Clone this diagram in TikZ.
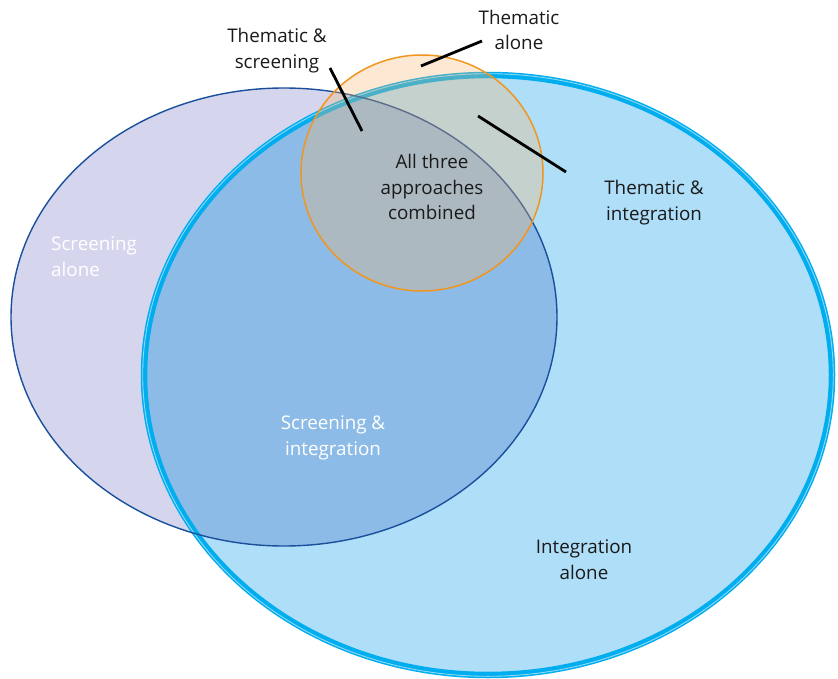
\documentclass[tikz,border=0pt]{standalone}
\usepackage{fontspec}
\setmainfont{Open Sans}
\definecolor{lav}{HTML}{D5D6EE}
\definecolor{lblue}{HTML}{AEDEF8}
\definecolor{ovl}{HTML}{8DBBE7}
\definecolor{cyanb}{HTML}{00AEEF}
\definecolor{cyanl}{HTML}{8ED8F6}
\definecolor{dblue}{HTML}{1A4F9C}
\definecolor{orng}{HTML}{F0961E}
\definecolor{peach}{HTML}{F8B66C}
\definecolor{txt}{HTML}{1A1A1A}
\begin{document}
\begin{tikzpicture}[x=1pt,y=-1pt,
  lbl/.style={font=\fontsize{18.8}{25.8}\selectfont, text=txt, align=center, inner sep=0pt},
  wlbl/.style={lbl, text=white},
  leader/.style={line width=2.8pt, black}]
\useasboundingbox (0,0) rectangle (838,679);
\def\leftE{(284,317) ellipse [x radius=273pt, y radius=229pt]}
\def\bigE{(488,375) ellipse [x radius=344pt, y radius=300pt]}
\def\circE{(422,173) ellipse [x radius=121pt, y radius=118pt]}
% fills
\fill[lav] \leftE;
\fill[lblue] \bigE;
\begin{scope}
  \clip \leftE;
  \fill[ovl] \bigE;
\end{scope}
% big ellipse border
\draw[cyanb, line width=6.5pt] \bigE;
\draw[cyanl, line width=0.9pt] (488,375) ellipse [x radius=345.3pt, y radius=301.3pt];
% left ellipse border
\draw[dblue, line width=1.4pt] \leftE;
% circle
\fill[peach, fill opacity=0.3] \circE;
\draw[orng, line width=1.5pt] \circE;
% labels
\node[lbl] (ts) at (277,51) {Thematic \&\\screening};
\node[lbl] (ta) at (519,30) {Thematic\\alone};
\node[lbl] (all) at (432,187) {All three\\approaches\\combined};
\node[lbl] (ti) at (654,203) {Thematic \&\\integration};
\node[wlbl, align=left, anchor=west] (sa) at (51,257) {Screening\\alone};
\node[wlbl] (si) at (333,438) {Screening \&\\integration};
\node[lbl] (ia) at (584,560) {Integration\\alone};
% leader lines
\coordinate (tsA) at (330,68);
\coordinate (tsB) at (362,131);
\coordinate (taA) at (482,41);
\coordinate (taB) at (421,66);
\coordinate (tiA) at (566,172);
\coordinate (tiB) at (478,116);
\draw[leader] (tsA) -- (tsB);
\draw[leader] (taA) -- (taB);
\draw[leader] (tiA) -- (tiB);
\end{tikzpicture}
\end{document}
